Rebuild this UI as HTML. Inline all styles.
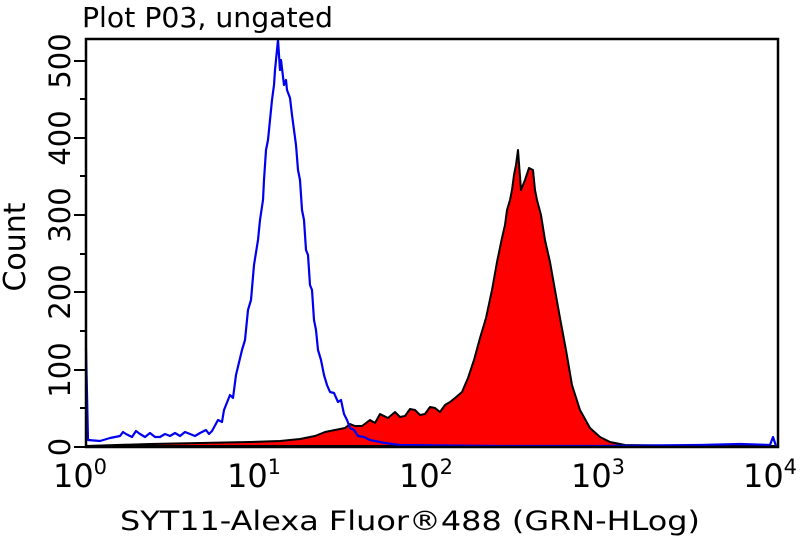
<!DOCTYPE html>
<html><head><style>
body{margin:0;background:#fff;}
svg{display:block;font-family:"DejaVu Sans","Liberation Sans",sans-serif;}
</style></head><body>
<svg width="800" height="540" viewBox="0 0 800 540">
<rect width="800" height="540" fill="#fff"/>
<text x="82" y="27" font-size="28" fill="#000" textLength="251" lengthAdjust="spacingAndGlyphs">Plot P03, ungated</text>
<!-- red filled histogram -->
<path d="M86,446 L150,444 L200,443 L250,442 L280,441 L300,439 L315,436 L325,432 L335,430 L345,428 L350,424 L355,426 L362,426 L370,420 L375,423 L380,414 L388,418 L395,412 L400,417 L405,416 L410,409 L415,410 L420,415 L425,414 L430,407 L435,408 L440,412 L445,405 L450,402 L455,398 L462,392 L468,378 L474,360 L480,338 L486,318 L492,290 L497,262 L502,238 L505,225 L507,210 L510,200 L512,190 L514,175 L516,165 L518,150 L521,190 L525,180 L529,168 L533,170 L535,190 L537,200 L541,215 L545,240 L550,262 L555,290 L560,318 L566,350 L572,385 L580,410 L590,428 L600,437 L610,442 L625,445 L700,446 L775,446 Z" fill="#ff0000" stroke="#000" stroke-width="2" stroke-linejoin="round"/>
<!-- blue histogram -->
<polyline fill="none" stroke="#0000ee" stroke-width="2.2" stroke-linejoin="round" points="86,348 88,440 100,441 110,438 120,436 123,432 126,434 132,437 136,431 140,434 145,437 150,433 155,437 160,437 165,434 170,436 175,433 180,436 185,432 190,434 195,436 200,433 206,430 209,434 212,431 218,420 222,422 224,410 230,395 233,398 236,375 242,350 245,340 248,310 251,300 254,265 258,240 260,220 263,200 264,180 266,150 268,140 270,120 272,100 274,85 275,70 278,40 280,70 281,60 284,85 286,80 287,90 290,98 292,115 294,130 296,145 298,170 300,180 302,210 304,220 306,250 308,255 310,285 312,290 314,320 316,330 318,350 321,360 324,375 327,385 330,392 334,393 338,402 341,400 344,414 347,420 350,428 354,430 358,436 364,437 370,440 385,443 400,445 500,446 600,446 700,445 740,444 770,445 773,437 776,446"/>
<!-- frame -->
<rect x="86" y="39" width="692" height="408" fill="none" stroke="#000" stroke-width="2.5"/>
<!-- y ticks -->
<g stroke="#000" stroke-width="2">
<line x1="74" y1="447" x2="86" y2="447"/><line x1="74" y1="370" x2="86" y2="370"/><line x1="74" y1="292" x2="86" y2="292"/><line x1="74" y1="215" x2="86" y2="215"/><line x1="74" y1="138" x2="86" y2="138"/><line x1="74" y1="61" x2="86" y2="61"/>
<line x1="80" y1="408" x2="86" y2="408"/><line x1="80" y1="331" x2="86" y2="331"/><line x1="80" y1="254" x2="86" y2="254"/><line x1="80" y1="176" x2="86" y2="176"/><line x1="80" y1="99" x2="86" y2="99"/>
</g>
<g font-size="29" fill="#000" text-anchor="middle">
<text transform="translate(70,447) rotate(-90)">0</text>
<text transform="translate(70,370) rotate(-90)">100</text>
<text transform="translate(70,292) rotate(-90)">200</text>
<text transform="translate(70,215) rotate(-90)">300</text>
<text transform="translate(70,138) rotate(-90)">400</text>
<text transform="translate(70,61) rotate(-90)">500</text>
<text transform="translate(25,247) rotate(-90)" font-size="30">Count</text>
</g>
<!-- x ticks -->
<g stroke="#000" stroke-width="2" id="xt"></g>
<g font-size="32" fill="#000" text-anchor="middle">
<text x="80" y="487">10<tspan font-size="21" dy="-13">0</tspan></text>
<text x="254" y="487">10<tspan font-size="21" dy="-13">1</tspan></text>
<text x="426" y="487">10<tspan font-size="21" dy="-13">2</tspan></text>
<text x="598" y="487">10<tspan font-size="21" dy="-13">3</tspan></text>
<text x="770" y="487">10<tspan font-size="21" dy="-13">4</tspan></text>
<text x="410" y="530" font-size="27" textLength="580" lengthAdjust="spacingAndGlyphs">SYT11-Alexa Fluor®488 (GRN-HLog)</text>
</g>
<script>
var g=document.getElementById('xt'),s='';
for(var d=0;d<4;d++)for(var k=1;k<10;k++){var x=86+(d+Math.log10(k))*172.3;var L=k==1?12:6;s+='<line x1="'+x+'" y1="447" x2="'+x+'" y2="'+(447+L)+'"/>';}
s+='<line x1="775" y1="447" x2="775" y2="459"/>';
g.innerHTML=s;
</script>
</svg>
</body></html>
